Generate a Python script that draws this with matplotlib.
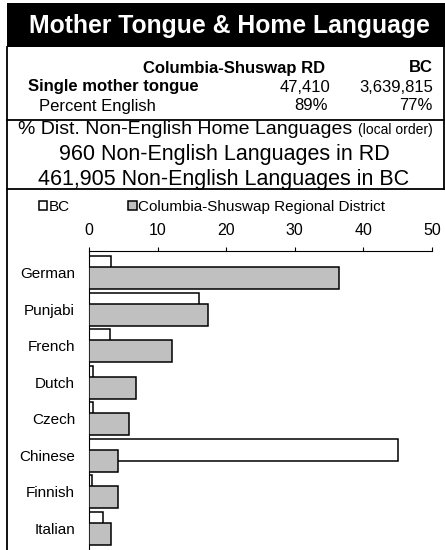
import matplotlib
matplotlib.use('Agg')
import matplotlib.pyplot as plt
import matplotlib.patches as mpatches
import matplotlib.lines as mlines
import numpy as np

plt.rcParams['font.family'] = ['Liberation Sans', 'DejaVu Sans']

# data
languages = ['German', 'Punjabi', 'French', 'Dutch', 'Czech', 'Chinese', 'Finnish', 'Italian']
pct_bc = [3.2, 16.1, 3.1, 0.6, 0.55, 45.0, 0.4, 2.0]
pct_rd = [36.5, 17.3, 12.1, 6.8, 5.8, 4.2, 4.2, 3.2]

title = 'Mother Tongue & Home Language'
col_heads = ['Columbia-Shuswap RD', 'BC']
single_mother = ['47,410', '3,639,815']
pct_english = ['89%', '77%']
sub_lines = ['960 Non-English Languages in RD', '461,905 Non-English Languages in BC']
series_names = ['BC', 'Columbia-Shuswap Regional District']
xticks = [0, 10, 20, 30, 40, 50]

W, H = 445, 550


def fx(px):
    return px / W


def fy(py):
    return 1 - py / H


fig = plt.figure(figsize=(W / 100, H / 100), dpi=100)

# black title banner
fig.add_artist(mpatches.Rectangle((fx(7), fy(47)), fx(445) - fx(7), fy(3) - fy(47),
                                  transform=fig.transFigure, facecolor='black',
                                  edgecolor='none'))
fig.text(fx(229), fy(33.5), title, color='white', fontsize=17.8, fontweight='bold',
         ha='center', va='baseline')

# frame lines
lw = 1.3
fig.add_artist(mlines.Line2D([fx(7), fx(7)], [fy(47), fy(550)], color='black', lw=lw))
fig.add_artist(mlines.Line2D([fx(444), fx(444)], [fy(47), fy(189)], color='black', lw=lw))
fig.add_artist(mlines.Line2D([fx(7), fx(445)], [fy(120), fy(120)], color='black', lw=lw))
fig.add_artist(mlines.Line2D([fx(7), fx(445)], [fy(189), fy(189)], color='black', lw=lw))

# small table
fs = 12
fig.text(fx(325), fy(72.5), col_heads[0], fontsize=fs, fontweight='bold', ha='right', va='baseline')
fig.text(fx(433), fy(72.5), col_heads[1], fontsize=fs, fontweight='bold', ha='right', va='baseline')
fig.text(fx(28), fy(91.5), 'Single mother tongue', fontsize=fs, fontweight='bold', ha='left', va='baseline')
fig.text(fx(330), fy(91.5), single_mother[0], fontsize=fs, ha='right', va='baseline')
fig.text(fx(433), fy(91.5), single_mother[1], fontsize=fs, ha='right', va='baseline')
fig.text(fx(39), fy(110.5), 'Percent English', fontsize=fs, ha='left', va='baseline')
fig.text(fx(328), fy(110.5), pct_english[0], fontsize=fs, ha='right', va='baseline')
fig.text(fx(433), fy(110.5), pct_english[1], fontsize=fs, ha='right', va='baseline')

# sub heading
t = fig.text(fx(18), fy(134), '% Dist. Non-English Home Languages ', fontsize=14,
             ha='left', va='baseline')
fig.canvas.draw()
bb = t.get_window_extent()
fig.text(bb.x1 / W, fy(134), '(local order)', fontsize=10, ha='left', va='baseline')
fig.text(fx(224), fy(160), sub_lines[0], fontsize=15.5, ha='center', va='baseline')
fig.text(fx(224), fy(185.5), sub_lines[1], fontsize=15.5, ha='center', va='baseline')

# bar chart
ax = fig.add_axes([fx(89), 0, fx(432) - fx(89), fy(251)])
y = np.arange(len(languages))
h = 0.6
bc_bars = ax.barh(y - 0.15, pct_bc, height=h, color='white', edgecolor='black',
                  linewidth=1.1, zorder=2)
rd_bars = ax.barh(y + 0.15, pct_rd, height=h, color='#c0c0c0', edgecolor='black',
                  linewidth=1.1, zorder=3)

ax.set_xlim(0, 50)
ax.set_ylim(len(languages) - 0.4, -0.6)
ax.set_yticks(y)
ax.set_yticklabels(languages, fontsize=11)
ax.set_xticks(xticks)
ax.xaxis.tick_top()
ax.tick_params(axis='x', direction='out', length=3, width=0.8, pad=6, labelsize=11.5)
ax.tick_params(axis='y', length=0, pad=10)
for s in ['right', 'bottom']:
    ax.spines[s].set_visible(False)
ax.spines['top'].set_linewidth(0.8)
ax.spines['left'].set_linewidth(0.8)

fig.legend([bc_bars, rd_bars], series_names, ncol=2, loc='center left',
           bbox_to_anchor=(fx(39), fy(207)), frameon=False, fontsize=11,
           handlelength=0.55, handleheight=0.55, handletextpad=0.1,
           columnspacing=3.8, borderpad=0, borderaxespad=0)

fig.savefig('out.png', dpi=100)
